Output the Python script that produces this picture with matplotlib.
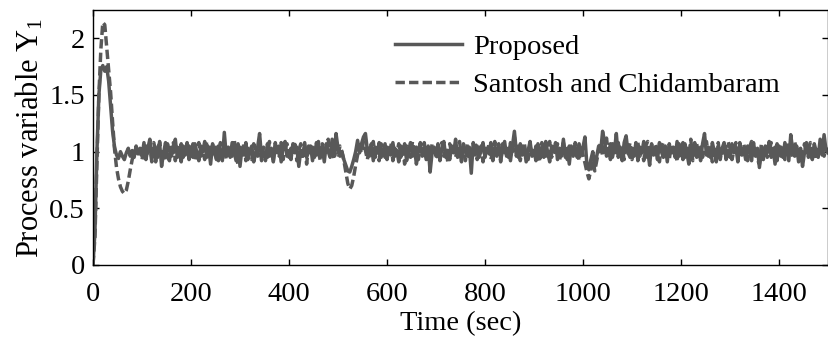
import numpy as np
import matplotlib
matplotlib.use("Agg")
import matplotlib.pyplot as plt
from matplotlib.ticker import FuncFormatter

plt.rcParams['font.family'] = ['Liberation Serif', 'DejaVu Serif']
plt.rcParams['mathtext.fontset'] = 'custom'
plt.rcParams['mathtext.rm'] = 'Liberation Serif'
plt.rcParams['mathtext.it'] = 'Liberation Serif:italic'

# sample interval (s)
dt = 4

# Proposed controller response, percent of setpoint, every 4 s from 0 to 1500 s
proposed_pct = [
    0, 30, 100, 150, 172, 176, 171, 175, 162, 140, 118, 104, 97, 94, 100, 96, 93, 99, 103, 96, 101, 95, 105, 98, 103,
    96, 108, 93, 103, 111, 95, 100, 91, 104, 107, 87, 99, 108, 96, 92, 104, 99, 111, 95, 101, 91, 105, 97, 108, 93,
    101, 95, 107, 99, 92, 105, 100, 109, 95, 104, 89, 107, 99, 93, 105, 101, 92, 117, 96, 104, 95, 108, 100, 92, 107,
    87, 103, 97, 108, 93, 101, 105, 91, 99, 104, 116, 95, 100, 92, 107, 96, 103, 92, 108, 99, 105, 91, 103, 109, 96,
    101, 93, 107, 99, 104, 87, 101, 96, 108, 95, 100, 105, 92, 103, 97, 109, 95, 104, 91, 107, 100, 95, 111, 97, 116,
    103, 96, 100, 93, 88, 83, 82, 87, 93, 100, 110, 99, 107, 113, 116, 101, 96, 107, 92, 104, 99, 108, 95, 101, 107,
    93, 103, 97, 108, 96, 101, 91, 105, 99, 107, 92, 101, 108, 96, 104, 89, 100, 108, 96, 103, 93, 105, 82, 99, 104,
    96, 107, 92, 103, 109, 95, 101, 93, 105, 99, 111, 95, 103, 91, 107, 100, 96, 104, 81, 108, 97, 105, 95, 101, 108,
    95, 103, 99, 108, 92, 104, 97, 107, 93, 101, 109, 96, 103, 92, 105, 118, 100, 95, 107, 97, 104, 91, 101, 109, 96,
    101, 92, 107, 97, 104, 95, 109, 99, 91, 105, 100, 108, 93, 103, 96, 111, 95, 103, 89, 105, 99, 104, 95, 107, 97,
    104, 113, 88, 84, 93, 100, 87, 96, 105, 100, 118, 109, 96, 103, 93, 107, 100, 116, 95, 104, 92, 108, 114, 99, 95,
    103, 96, 108, 92, 104, 99, 109, 95, 101, 88, 107, 97, 103, 93, 108, 100, 95, 105, 91, 107, 99, 104, 95, 109, 96,
    103, 93, 107, 99, 89, 105, 100, 108, 95, 103, 92, 107, 116, 97, 104, 95, 108, 100, 91, 105, 96, 103, 108, 93, 101,
    95, 107, 99, 104, 91, 108, 97, 103, 93, 105, 100, 92, 108, 96, 103, 86, 100, 93, 105, 99, 109, 95, 103, 89, 107,
    97, 104, 95, 108, 100, 92, 115, 101, 96, 105, 91, 103, 87, 99, 108, 95, 103, 93, 107, 100, 95, 111, 97, 115, 101,
    99,
]

# Santosh and Chidambaram controller response, percent of setpoint
santosh_pct = [
    0, 25, 90, 150, 190, 214, 212, 192, 172, 152, 126, 102, 86, 76, 69, 65, 63, 66, 74, 84, 93, 99, 103, 97, 102,
    93, 101, 105, 96, 104, 91, 108, 100, 95, 109, 97, 103, 92, 107, 101, 96, 108, 92, 104, 99, 107, 95, 103, 97, 105,
    99, 107, 92, 103, 108, 96, 101, 93, 109, 99, 104, 95, 107, 100, 92, 108, 97, 103, 93, 105, 101, 96, 111, 99, 88,
    104, 96, 108, 92, 103, 99, 93, 107, 101, 96, 108, 92, 104, 100, 95, 109, 97, 91, 105, 101, 96, 108, 93, 103, 107,
    95, 103, 97, 109, 92, 101, 107, 96, 103, 89, 105, 99, 104, 95, 108, 100, 92, 107, 97, 103, 111, 96, 103, 93, 108,
    97, 105, 100, 92, 82, 72, 67, 70, 78, 88, 97, 105, 99, 109, 101, 93, 105, 99, 109, 95, 103, 92, 107, 100, 95,
    104, 96, 108, 92, 103, 99, 107, 95, 104, 89, 105, 100, 95, 109, 97, 104, 93, 103, 99, 108, 96, 101, 92, 107, 100,
    105, 93, 101, 108, 96, 103, 91, 107, 99, 104, 95, 103, 109, 96, 101, 92, 107, 99, 95, 103, 108, 93, 100, 105, 91,
    103, 97, 107, 93, 101, 109, 96, 104, 91, 107, 99, 103, 95, 108, 100, 113, 96, 105, 92, 103, 108, 97, 93, 104, 100,
    96, 105, 99, 91, 108, 101, 96, 104, 109, 95, 103, 97, 107, 92, 101, 108, 99, 93, 105, 100, 96, 108, 103, 92, 105,
    97, 90, 82, 76, 84, 93, 83, 92, 101, 108, 96, 104, 112, 97, 107, 95, 103, 99, 108, 96, 103, 93, 105, 100, 108,
    93, 103, 99, 108, 96, 101, 92, 105, 109, 97, 103, 95, 107, 100, 91, 104, 108, 96, 101, 93, 105, 99, 103, 91, 107,
    100, 108, 95, 103, 96, 111, 92, 101, 107, 97, 104, 95, 103, 109, 96, 100, 91, 105, 99, 108, 93, 103, 96, 104, 109,
    103, 93, 101, 108, 96, 103, 95, 107, 99, 92, 104, 109, 96, 101, 93, 89, 107, 99, 103, 95, 101, 108, 96, 104, 92,
    105, 96, 103, 93, 108, 99, 103, 95, 109, 100, 96, 104, 91, 107, 99, 103, 108, 96, 101, 93, 105, 99, 104, 96, 103,
    100,
]

assert len(proposed_pct) == 376, len(proposed_pct)
assert len(santosh_pct) == 376, len(santosh_pct)

series_labels = ['Proposed', 'Santosh and Chidambaram']
xticks = [0, 200, 400, 600, 800, 1000, 1200, 1400]
yticks = [0, 0.5, 1, 1.5, 2]

t = np.arange(len(proposed_pct)) * dt
y_prop = np.array(proposed_pct) / 100.0
y_sant = np.array(santosh_pct) / 100.0

W, H = 829, 337
fig = plt.figure(figsize=(W / 100, H / 100), dpi=100)
ax = fig.add_axes([93 / W, 72 / H, 735 / W, 255 / H])

col = '#585858'
FS = 20.5
ax.plot(t, y_prop, color=col, lw=2.5, solid_joinstyle='round', label=series_labels[0])
l2, = ax.plot(t, y_sant, color=col, lw=2.5, label=series_labels[1])
l2.set_dashes((2.7, 1.2))

ax.set_xlim(0, 1500)
ax.set_ylim(0, 2.25)
ax.set_xticks(xticks)
ax.set_yticks(yticks)
ax.yaxis.set_major_formatter(FuncFormatter(lambda v, p: '%g' % v))
ax.tick_params(direction='in', length=4.5, width=1, top=True, right=True,
               labelsize=FS)
ax.tick_params(axis='x', pad=12)
ax.tick_params(axis='y', pad=6)
for s in ax.spines.values():
    s.set_linewidth(1.0)

ax.set_xlabel('Time (sec)', fontsize=FS)
ax.xaxis.set_label_coords(0.5, -(311 - 265) / 255)
ax.set_ylabel('Process variable Y$_{\\mathrm{1}}$', fontsize=22)
ax.yaxis.set_label_coords(-(93 - 46) / 735, 0.5)

leg = ax.legend(loc='upper left', bbox_to_anchor=(395 / W, 1 - 34 / H),
                bbox_transform=fig.transFigure, frameon=False, fontsize=FS,
                handlelength=2.35, handletextpad=0.39, labelspacing=0.43,
                borderpad=0, borderaxespad=0)

fig.savefig('out.png', dpi=100)
